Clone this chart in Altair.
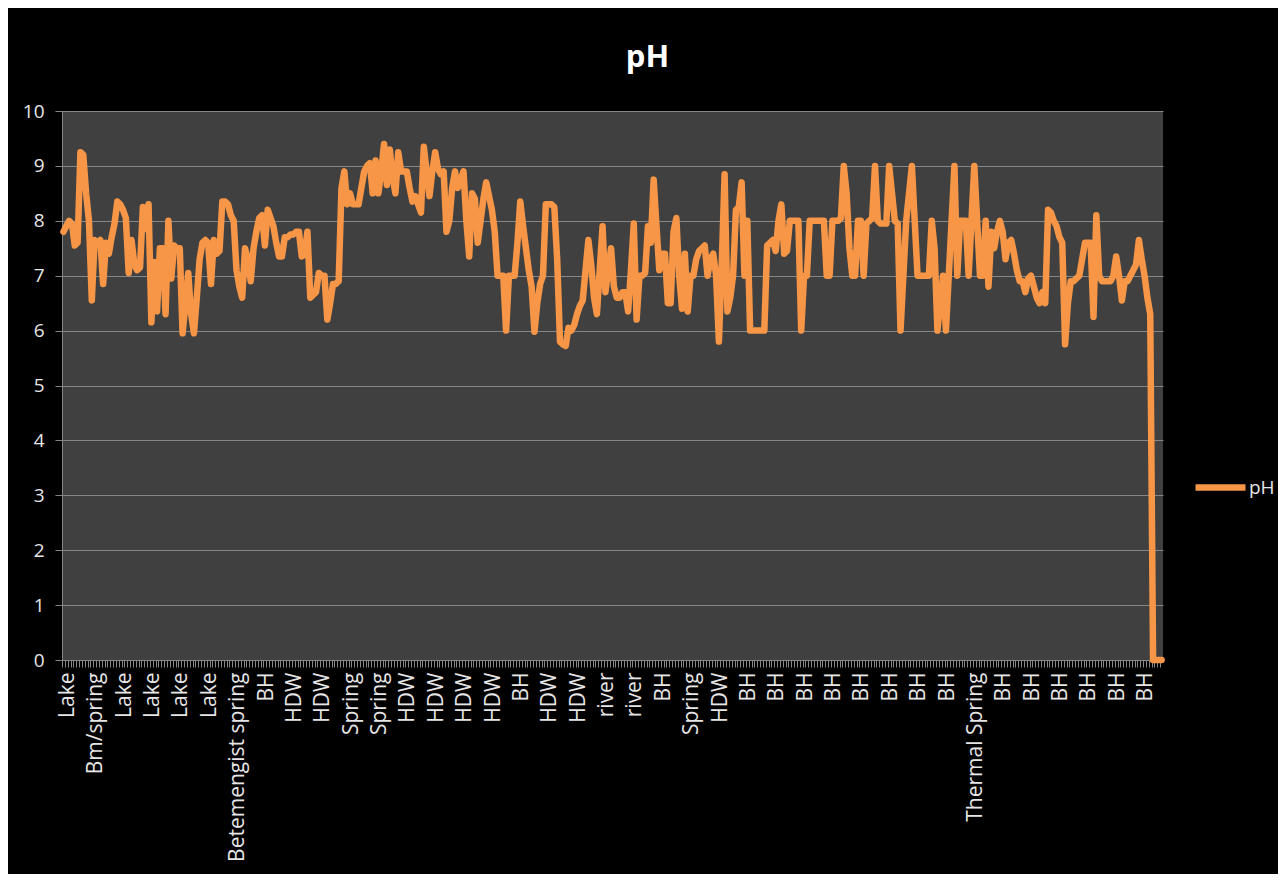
import json
import altair as alt
import pandas as pd

# pH readings, one per sample (category)
ph_values = [
    7.8, 7.9, 8.0, 7.95, 7.55, 7.6, 9.25, 9.2, 8.5, 8.0,
    6.55, 7.65, 7.6, 7.65, 6.85, 7.6, 7.4, 7.7, 7.95, 8.35,
    8.3, 8.2, 8.05, 7.05, 7.65, 7.2, 7.1, 7.15, 8.25, 7.85,
    8.3, 6.15, 7.25, 6.35, 7.5, 7.5, 6.3, 8.0, 6.95, 7.55,
    7.5, 7.5, 5.95, 6.5, 7.05, 6.3, 5.95, 6.6, 7.3, 7.6,
    7.65, 7.6, 6.85, 7.65, 7.4, 7.45, 8.35, 8.35, 8.3, 8.1,
    8.0, 7.1, 6.8, 6.6, 7.5, 7.3, 6.9, 7.5, 7.8, 8.05,
    8.1, 7.55, 8.2, 8.05, 7.9, 7.6, 7.35, 7.35, 7.7, 7.7,
    7.75, 7.75, 7.8, 7.8, 7.35, 7.4, 7.8, 6.6, 6.65, 6.7,
    7.05, 7.0, 7.0, 6.2, 6.5, 6.85, 6.85, 6.9, 8.6, 8.9,
    8.3, 8.5, 8.3, 8.3, 8.3, 8.6, 8.9, 9.0, 9.05, 8.5,
    9.1, 8.5, 8.9, 9.4, 8.65, 9.3, 8.8, 8.5, 9.25, 8.9,
    8.9, 8.9, 8.6, 8.35, 8.45, 8.3, 8.15, 9.35, 8.9, 8.45,
    8.9, 9.25, 8.95, 8.85, 8.9, 7.8, 8.0, 8.6, 8.9, 8.6,
    8.75, 8.9, 8.0, 7.35, 8.5, 8.4, 7.6, 8.0, 8.4, 8.7,
    8.45, 8.2, 7.8, 7.0, 7.0, 7.0, 6.0, 7.0, 7.0, 7.0,
    7.6, 8.35, 7.9, 7.5, 7.1, 6.8, 5.98, 6.5, 6.85, 7.0,
    8.3, 8.3, 8.3, 8.25, 7.3, 5.8, 5.75, 5.72, 6.05, 6.0,
    6.1, 6.3, 6.45, 6.55, 7.1, 7.65, 7.2, 6.6, 6.3, 7.1,
    7.9, 6.7, 7.1, 7.5, 6.8, 6.6, 6.6, 6.7, 6.7, 6.35,
    7.1, 7.95, 6.2, 7.0, 7.0, 7.05, 7.9, 7.6, 8.75, 7.9,
    7.1, 7.4, 7.4, 6.5, 6.5, 7.8, 8.05, 7.0, 6.4, 7.4,
    6.35, 7.0, 7.0, 7.3, 7.45, 7.5, 7.55, 7.0, 7.3, 7.4,
    7.0, 5.8, 7.2, 8.85, 6.35, 6.6, 7.0, 8.2, 8.25, 8.7,
    7.0, 8.0, 6.0, 6.0, 6.0, 6.0, 6.0, 6.0, 7.55, 7.6,
    7.65, 7.45, 8.0, 8.3, 7.4, 7.45, 8.0, 8.0, 8.0, 8.0,
    6.0, 7.0, 7.0, 8.0, 8.0, 8.0, 8.0, 8.0, 8.0, 7.0,
    7.0, 8.0, 8.0, 8.0, 8.05, 9.0, 8.5, 7.5, 7.0, 7.0,
    8.0, 8.0, 7.0, 7.95, 8.0, 8.05, 9.0, 8.0, 7.95, 7.95,
    7.95, 9.0, 8.5, 8.0, 7.95, 6.0, 7.0, 8.0, 8.5, 9.0,
    8.0, 7.0, 7.0, 7.0, 7.0, 7.0, 8.0, 7.5, 6.0, 6.5,
    7.0, 6.0, 7.0, 8.0, 9.0, 7.0, 8.0, 8.0, 8.0, 7.0,
    8.0, 9.0, 8.0, 7.0, 7.0, 8.0, 6.8, 7.8, 7.5, 7.8,
    8.0, 7.8, 7.3, 7.6, 7.65, 7.4, 7.1, 6.9, 6.9, 6.7,
    6.95, 7.0, 6.8, 6.6, 6.5, 6.7, 6.5, 8.2, 8.15, 8.0,
    7.9, 7.7, 7.6, 5.75, 6.5, 6.9, 6.9, 6.95, 7.0, 7.3,
    7.6, 7.6, 7.6, 6.25, 8.1, 7.0, 6.9, 6.9, 6.9, 6.9,
    7.0, 7.35, 7.0, 6.55, 6.9, 6.9, 7.0, 7.1, 7.2, 7.65,
    7.3, 7.0, 6.6, 6.3, 0.0, 0.0, 0.0, 0.0,
]

# sample-type labels shown on the axis (every 10th sample)
x_labels = [
    "Lake", "Bm/spring", "Lake", "Lake", "Lake", "Lake", "Betemengist spring",
    "BH", "HDW", "HDW", "Spring", "Spring", "HDW", "HDW", "HDW", "HDW", "BH",
    "HDW", "HDW", "river", "river", "BH", "Spring", "HDW", "BH", "BH", "BH",
    "BH", "BH", "BH", "BH", "BH", "Thermal Spring", "BH", "BH", "BH", "BH",
    "BH", "BH",
]
label_step = 10
y_ticks = list(range(0, 11))
series_name = "pH"

N = len(ph_values)
df = pd.DataFrame({"idx": list(range(N)), "pH": ph_values, "series": [series_name] * N})

FONT = "Open Sans"
TXT = "#e6e6e6"
GRID = "#868686"
ORANGE = "#F79646"

W, H = 1101, 549
PAD_L, PAD_T = 54, 103
PAD_R = 1270 - PAD_L - W
PAD_B = 866 - PAD_T - H

step_px = W / N
label_expr = (
    f"datum.value % {label_step} == 0 ? "
    f"{json.dumps(x_labels)}[datum.value / {label_step}] : ''"
)

chart = (
    alt.Chart(df)
    .mark_line(strokeWidth=6.5, strokeJoin="round", strokeCap="round")
    .encode(
        x=alt.X(
            "idx:Q",
            title="",
            scale=alt.Scale(domain=[-0.5, N - 0.5], nice=False, zero=False),
            axis=alt.Axis(
                values=list(range(N)),
                labelExpr=label_expr,
                labelAngle=-90,
                labelOverlap=False,
                labelFont=FONT,
                labelFontSize=21,
                labelColor=TXT,
                labelPadding=5,
                labelLimit=400,
                labelBound=False,
                labelFlush=False,
                tickSize=7,
                tickColor=GRID,
                tickWidth=1,
                tickOffset=-step_px / 2,
                labelOffset=step_px / 2 + 4,
                domainColor=GRID,
                domainWidth=1,
                grid=False,
            ),
        ),
        y=alt.Y(
            "pH:Q",
            title="",
            scale=alt.Scale(domain=[0, 10], nice=False),
            axis=alt.Axis(
                values=y_ticks,
                grid=True,
                gridColor=GRID,
                gridWidth=1,
                tickSize=7,
                tickColor=GRID,
                labelFont=FONT,
                labelFontSize=19,
                labelColor=TXT,
                labelPadding=11,
                domainColor=GRID,
                domainWidth=1,
            ),
        ),
        color=alt.Color(
            "series:N",
            title=None,
            scale=alt.Scale(domain=[series_name], range=[ORANGE]),
            legend=alt.Legend(
                orient="none",
                legendX=1130,
                legendY=348,
                symbolType="stroke",
                symbolSize=2500,
                symbolStrokeWidth=6.5,
                labelFont=FONT,
                labelFontSize=19,
                labelColor=TXT,
                labelOffset=0,
                padding=0,
            ),
        ),
    )
    .properties(
        width=W,
        height=H,
        autosize=alt.AutoSizeParams(type="none"),
        padding={"left": PAD_L, "top": PAD_T, "right": PAD_R, "bottom": PAD_B},
        title=alt.TitleParams(
            text="pH",
            font=FONT,
            fontSize=31,
            fontWeight="bold",
            color="#ffffff",
            anchor="middle",
            frame="group",
            baseline="alphabetic",
            offset=4,
            dx=35,
        ),
    )
    .configure(background="#000000")
    .configure_view(fill="#404040", strokeWidth=0)
)

chart.save("out.html", embed_options={"renderer": "svg", "actions": False})
